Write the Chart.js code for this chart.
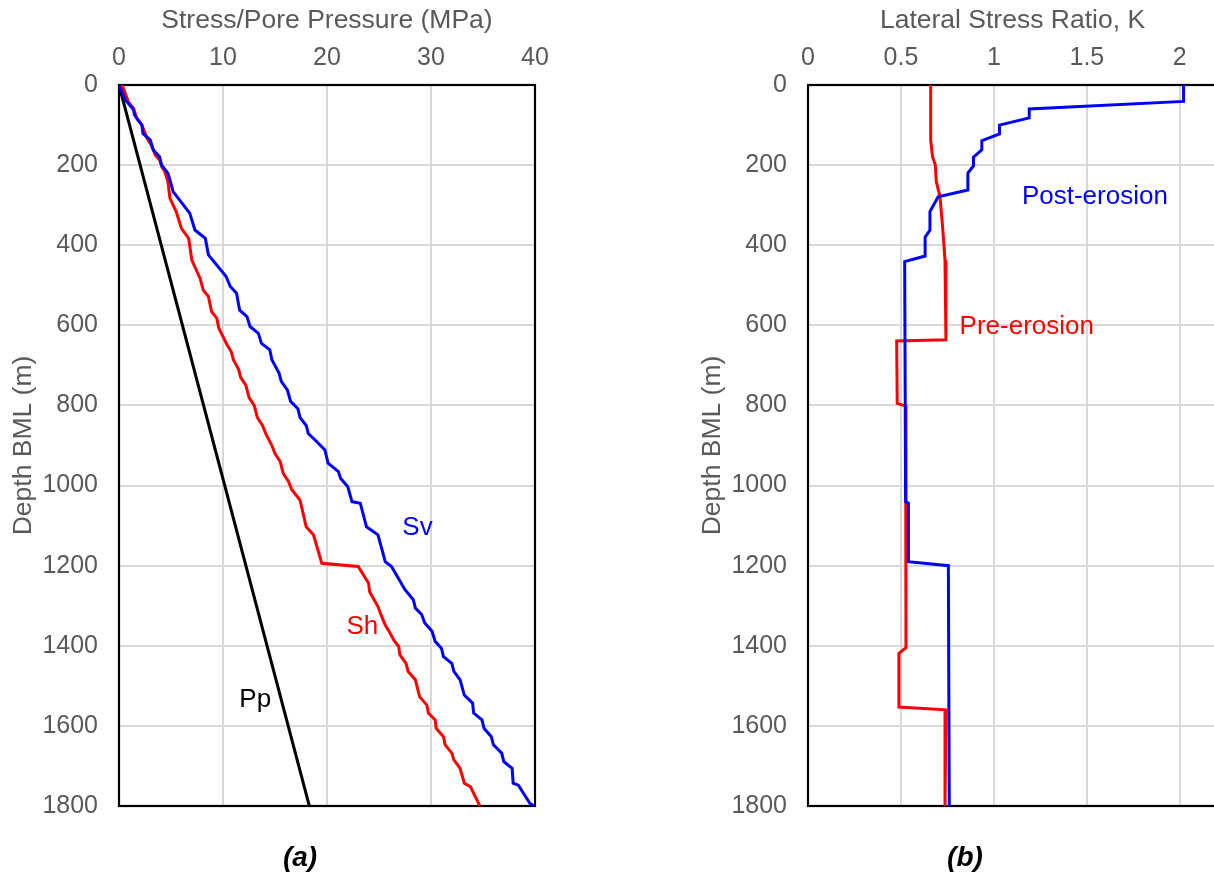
<!DOCTYPE html>
<html>
<head>
<meta charset="utf-8">
<script src="https://cdn.jsdelivr.net/npm/chart.js@4.4.1/dist/chart.umd.min.js"></script>
<style>
  html, body { margin: 0; padding: 0; background: #fff; }
  #wrap { position: relative; width: 1214px; height: 876px; overflow: hidden; }
  #wrap canvas { position: absolute; top: 0; }
</style>
</head>
<body>
<div id="wrap">
  <canvas id="stressChart" style="left:0px"></canvas>
  <canvas id="ratioChart" style="left:689px"></canvas>
</div>
<script>
// ---- panel (a): stress / pore pressure vs depth ----
const svDepth = [0, 37, 62, 75, 100, 121, 137, 162, 179, 200, 220, 237, 266, 320, 362, 383, 424, 478, 503, 520,
  562, 578, 603, 620, 645, 661, 686, 720, 740, 762, 790, 808, 830, 850, 870, 890, 911, 944, 965, 982,
  1003, 1040, 1044, 1103, 1123, 1190, 1202, 1260, 1285, 1306, 1322, 1343, 1364, 1389, 1406, 1427, 1444, 1464, 1485, 1523,
  1543, 1568, 1585, 1606, 1627, 1647, 1668, 1689, 1706, 1743, 1748, 1793, 1800];
const svValues = [0, 0.6, 1.4, 1.5, 2.2, 2.3, 3.0, 3.3, 3.9, 4.1, 4.7, 4.9, 5.2, 6.8, 7.3, 8.3, 8.6, 10.3, 10.7, 11.3,
  11.6, 12.3, 12.6, 13.4, 13.7, 14.5, 14.7, 15.4, 15.6, 16.2, 16.5, 17.2, 17.4, 18.0, 18.2, 19.0, 19.8, 20.1, 21.1, 21.3,
  22.0, 22.4, 23.2, 23.8, 24.9, 25.6, 26.2, 27.5, 28.3, 28.5, 29.1, 29.4, 30.1, 30.4, 31.0, 31.2, 32.0, 32.2, 32.8, 33.2,
  34.0, 34.1, 34.9, 35.1, 35.8, 36.0, 36.8, 37.0, 37.8, 37.9, 38.4, 39.5, 39.9];

const shDepth = [0, 42, 58, 83, 100, 133, 150, 175, 187, 204, 216, 241, 283, 316, 358, 383, 437, 483, 512, 528,
  566, 582, 607, 628, 649, 666, 686, 710, 730, 750, 780, 800, 830, 850, 870, 900, 920, 940, 970, 990,
  1010, 1036, 1103, 1123, 1194, 1202, 1244, 1265, 1302, 1323, 1348, 1365, 1385, 1402, 1422, 1444, 1464, 1485, 1527, 1548,
  1568, 1585, 1606, 1627, 1647, 1668, 1685, 1706, 1743, 1752, 1800];
const shValues = [0.3, 0.9, 1.4, 1.7, 2.2, 2.7, 3.1, 3.5, 3.9, 4.1, 4.4, 4.7, 4.9, 5.5, 6.0, 6.7, 7.0, 7.8, 8.1, 8.6,
  8.9, 9.4, 9.6, 10.0, 10.4, 10.8, 11.0, 11.5, 11.7, 12.2, 12.5, 13.0, 13.3, 13.8, 14.1, 14.7, 15.0, 15.5, 15.8, 16.3,
  16.6, 17.4, 18.0, 18.7, 19.5, 23.0, 24.0, 24.1, 24.9, 25.2, 25.6, 26.0, 26.4, 26.9, 27.0, 27.6, 27.8, 28.5, 28.9, 29.6,
  29.75, 30.4, 30.5, 31.2, 31.35, 32.0, 32.2, 32.8, 33.2, 33.8, 34.7];

const ppDepth = [0, 1800];
const ppValues = [0, 18.3];

// ---- panel (b): lateral stress ratio vs depth ----
const postDepth = [0, 41, 60, 82, 100, 122, 139, 162, 180, 202, 220, 262, 279, 316, 362, 380, 427, 441, 1040, 1044, 1190, 1200, 1800];
const postK = [2.02, 2.02, 1.19, 1.19, 1.03, 1.03, 0.935, 0.935, 0.89, 0.89, 0.86, 0.86, 0.70, 0.656, 0.656, 0.63, 0.63, 0.52, 0.525, 0.54, 0.54, 0.755, 0.76];
const preDepth = [0, 137, 179, 200, 241, 279, 354, 437, 636, 639, 795, 801, 1405, 1419, 1553, 1560, 1800];
const preK = [0.66, 0.66, 0.67, 0.685, 0.69, 0.71, 0.724, 0.737, 0.742, 0.477, 0.48, 0.525, 0.527, 0.489, 0.489, 0.742, 0.737];

// tick labels
const depthTicks = ['0', '200', '400', '600', '800', '1000', '1200', '1400', '1600', '1800'];
const stressTicks = ['0', '10', '20', '30', '40'];
const ratioTicks = ['0', '0.5', '1', '1.5', '2'];

const FONT = '"Liberation Sans", Arial, sans-serif';
const GREY = '#595959';

function pts(xs, ys) {
    return xs.map((v, i) => ({ x: v, y: ys[i] }));
}

function line(data, color) {
    return {
        data: data,
        showLine: true,
        borderColor: color,
        backgroundColor: color,
        borderWidth: 3,
        pointRadius: 0,
        pointHoverRadius: 0,
        tension: 0,
    };
}

// black box round the plot, plus the text notes and the (a)/(b) captions
const framePlugin = {
    id: 'frame',
    beforeDatasetsDraw(chart) {
        const a = chart.chartArea, ctx = chart.ctx;
        ctx.save();
        ctx.strokeStyle = '#000';
        ctx.lineWidth = 2.2;
        ctx.strokeRect(a.left, a.top, a.right - a.left, a.bottom - a.top);
        ctx.restore();
    },
    afterDraw(chart, args, opts) {
        const ctx = chart.ctx, sx = chart.scales.x, sy = chart.scales.y;
        ctx.save();
        ctx.textAlign = 'center';
        ctx.textBaseline = 'middle';
        ctx.font = '26px ' + FONT;
        (opts.notes || []).forEach(n => {
            ctx.fillStyle = n.color;
            ctx.fillText(n.text, sx.getPixelForValue(n.x), sy.getPixelForValue(n.y));
        });
        ctx.font = 'italic bold 28px ' + FONT;
        ctx.fillStyle = '#000';
        ctx.fillText(opts.caption, opts.captionX, 858);
        ctx.restore();
    },
};

function makeChart(id, width, plotRight, xAxis, datasets, notes, caption, captionX) {
    const cv = document.getElementById(id);
    cv.width = width;
    cv.height = 876;
    cv.style.width = width + 'px';
    cv.style.height = '876px';
    return new Chart(cv, {
        type: 'scatter',
        data: { datasets: datasets },
        options: {
            responsive: false,
            animation: false,
            events: [],
            layout: { padding: { left: 0, top: 0, right: width - plotRight, bottom: 70 } },
            plugins: {
                legend: { display: false },
                tooltip: { enabled: false },
                frame: { notes: notes, caption: caption, captionX: captionX },
            },
            scales: {
                x: {
                    type: 'linear',
                    position: 'top',
                    min: 0,
                    max: xAxis.max,
                    ticks: {
                        stepSize: xAxis.step,
                        includeBounds: false,
                        color: GREY,
                        font: { family: FONT, size: 25 },
                        padding: 12,
                        maxRotation: 0,
                        callback: v => xAxis.labels[Math.round(v / xAxis.step)],
                    },
                    grid: { color: '#d9d9d9', lineWidth: 2, drawTicks: false },
                    border: { display: false },
                    title: {
                        display: true,
                        text: xAxis.title,
                        color: GREY,
                        font: { family: FONT, size: 26.5 },
                        padding: { top: 5, bottom: 0 },
                    },
                    afterFit: s => { s.height = 85; },
                },
                y: {
                    type: 'linear',
                    reverse: true,
                    min: 0,
                    max: 1800,
                    ticks: {
                        stepSize: 200,
                        color: GREY,
                        font: { family: FONT, size: 25 },
                        padding: 21,
                        callback: v => depthTicks[Math.round(v / 200)],
                    },
                    grid: { color: '#d9d9d9', lineWidth: 2, drawTicks: false },
                    border: { display: false },
                    title: {
                        display: true,
                        text: 'Depth BML (m)',
                        color: GREY,
                        font: { family: FONT, size: 26.5 },
                        padding: { top: 8, bottom: 0 },
                    },
                    afterFit: s => { s.width = 119; },
                },
            },
        },
        plugins: [framePlugin],
    });
}

makeChart('stressChart', 570, 535,
    { max: 40, step: 10, labels: stressTicks, title: 'Stress/Pore Pressure (MPa)' },
    [
        line(pts(svValues, svDepth), '#0000ff'),
        line(pts(shValues, shDepth), '#ff0000'),
        line(pts(ppValues, ppDepth), '#000000'),
    ],
    [
        { text: 'Sv', x: 28.7, y: 1106, color: '#0000ff' },
        { text: 'Sh', x: 23.4, y: 1353, color: '#ff0000' },
        { text: 'Pp', x: 13.1, y: 1535, color: '#000000' },
    ],
    '(a)', 300);

makeChart('ratioChart', 560, 1217 - 689,
    { max: 2.2, step: 0.5, labels: ratioTicks, title: 'Lateral Stress Ratio, K' },
    [
        line(pts(postK, postDepth), '#0000ff'),
        line(pts(preK, preDepth), '#ff0000'),
    ],
    [
        { text: 'Post-erosion', x: 1.543, y: 280, color: '#0000ff' },
        { text: 'Pre-erosion', x: 1.177, y: 604, color: '#ff0000' },
    ],
    '(b)', 965 - 689);
</script>
</body>
</html>
